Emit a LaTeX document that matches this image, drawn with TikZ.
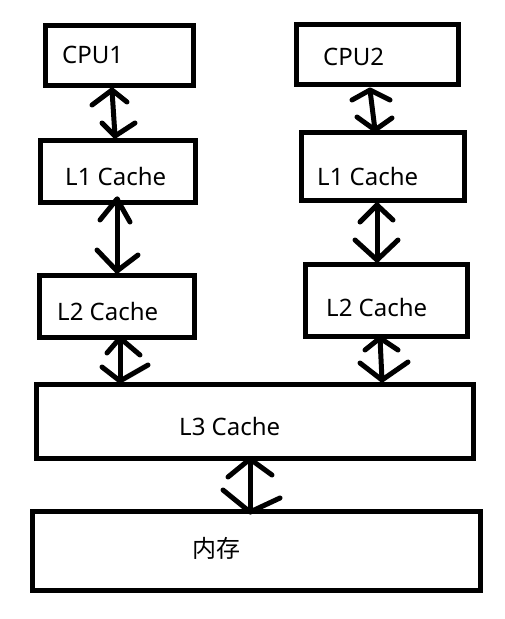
\documentclass[tikz,border=0pt]{standalone}
\usepackage{fontspec}
\setmainfont{Noto Sans}
\newfontfamily\cjk{Noto Sans CJK SC}
\begin{document}
\begin{tikzpicture}[x=1pt,y=-1pt,
  box/.style={draw, line width=5.5pt, inner sep=0pt, outer sep=0pt},
  lbl/.style={anchor=base west, inner sep=0pt, font=\fontsize{24}{28}\selectfont},
  ln/.style={line width=5pt, line cap=round, line join=round}]
\useasboundingbox[fill=white] (0,0) rectangle (505,619);
% boxes
\node[box, minimum width=148pt, minimum height=60pt] (cpu1) at (119.5,55.5) {};
\node[box, minimum width=155pt, minimum height=62pt] (l1a) at (118,171.5) {};
\node[box, minimum width=155pt, minimum height=62pt] (l2a) at (117,306.5) {};
\node[box, minimum width=162pt, minimum height=60pt] (cpu2) at (377.5,54.5) {};
\node[box, minimum width=163pt, minimum height=68pt] (l1b) at (383,166.5) {};
\node[box, minimum width=162pt, minimum height=72pt] (l2b) at (386.5,300.5) {};
\node[box, minimum width=437pt, minimum height=74pt] (l3) at (255,421.5) {};
\node[box, minimum width=448pt, minimum height=79pt] (mem) at (256.5,551) {};
% labels
\node[lbl] (tcpu1) at (62,63) {CPU1};
\node[lbl] (tl1a) at (65,185) {L1 Cache};
\node[lbl] (tl2a) at (57,320) {L2 Cache};
\node[lbl] (tcpu2) at (323,65) {CPU2};
\node[lbl] (tl1b) at (317,185) {L1 Cache};
\node[lbl] (tl2b) at (326,316) {L2 Cache};
\node[lbl] (tl3) at (179,435) {L3 Cache};
\node[lbl, font=\fontsize{24}{28}\cjk] (tmem) at (192,557) {内存};
% arrow end points
\coordinate (a1t) at (112,90);  \coordinate (a1b) at (115,136);
\coordinate (a2t) at (117,199); \coordinate (a2b) at (117,271);
\coordinate (a3t) at (120,338); \coordinate (a3b) at (120,381);
\coordinate (a4t) at (370,90);  \coordinate (a4b) at (375,130);
\coordinate (a5t) at (377,205); \coordinate (a5b) at (377,260);
\coordinate (a6t) at (380,338); \coordinate (a6b) at (382,380);
\coordinate (a7t) at (250,459); \coordinate (a7b) at (250,512);
% shafts
\draw[ln] (a1t) -- (a1b);
\draw[ln] (a2t) -- (a2b);
\draw[ln] (a3t) -- (a3b);
\draw[ln] (a4t) -- (a4b);
\draw[ln] (a5t) -- (a5b);
\draw[ln] (a6t) -- (a6b);
\draw[ln] (a7t) -- (a7b);
% tips
\draw[ln] (92,105) -- (a1t) -- (127,102);
\draw[ln] (102,123) -- (a1b) -- (135,123);
\draw[ln] (100,220) -- (a2t) -- (130,222);
\draw[ln] (97,250) -- (a2b) -- (138,255);
\draw[ln] (107,353) -- (a3t) -- (140,355);
\draw[ln] (102,367) -- (a3b) -- (148,365);
\draw[ln] (352,100) -- (a4t) -- (390,100);
\draw[ln] (357,117) -- (a4b) -- (392,118);
\draw[ln] (360,222) -- (a5t) -- (393,220);
\draw[ln] (355,240) -- (a5b) -- (398,240);
\draw[ln] (365,350) -- (a6t) -- (398,350);
\draw[ln] (360,363) -- (a6b) -- (408,362);
\draw[ln] (228,477) -- (a7t) -- (272,475);
\draw[ln] (223,490) -- (a7b) -- (280,498);
\end{tikzpicture}
\end{document}
